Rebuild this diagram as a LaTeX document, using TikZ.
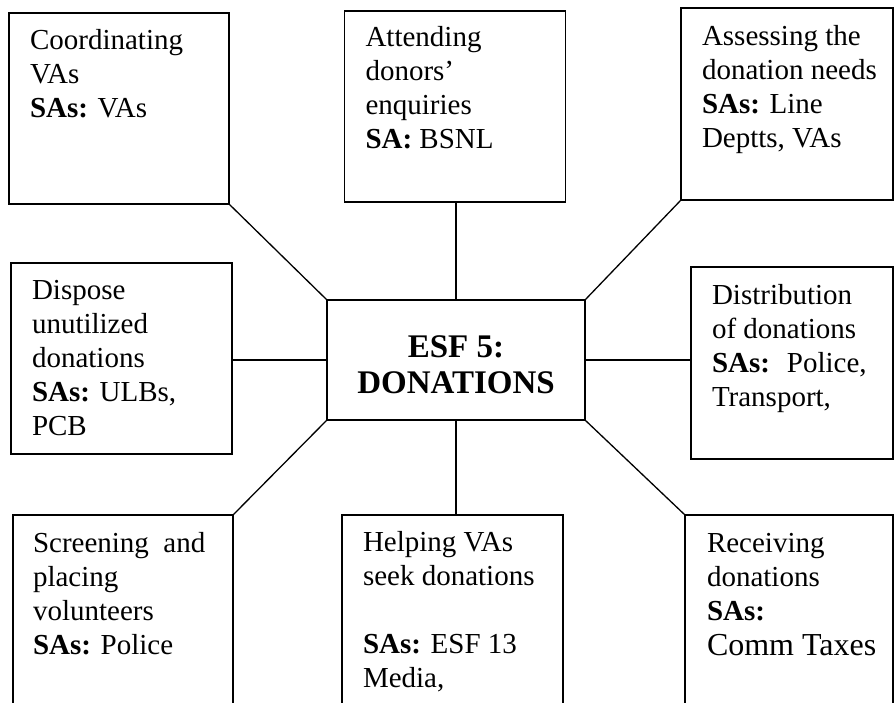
\documentclass[tikz,border=0pt]{standalone}
\usepackage{fontspec}
\setmainfont{Liberation Serif}
\usetikzlibrary{calc}
\tikzset{
  esfbox/.style={draw, line width=1.8pt, inner sep=0pt, outer sep=0pt, anchor=north west},
  esftext/.style={anchor=base west, inner sep=0pt, outer sep=0pt},
  esfline/.style={line width=1.3pt},
}
\newcommand{\esflines}[1]{\parbox[t]{200pt}{\raggedright\fontsize{29}{34}\selectfont #1}}

\begin{document}
\begin{tikzpicture}[x=1pt, y=-1pt]
	\useasboundingbox (0,0) rectangle (894,703);
	\clip (0,0) rectangle (894,703);
	
	% centre
	\node[draw, line width=1.8pt, inner sep=0pt, outer sep=0pt, minimum width=258pt, minimum height=120pt] (esf) at (456,360) {};
	\node[align=center, inner sep=0pt, font=\bfseries\fontsize{33}{36}\selectfont] (esftxt) at ($(esf.center)+(0,5)$) {ESF 5:\\DONATIONS};
	
	% boxes round it
	\node[esfbox, minimum width=220pt, minimum height=191pt] (coord) at (9,13) {};
	\node[esfbox, minimum width=221pt, minimum height=191pt] (enquiry) at (344.5,11) {};
	\node[esfbox, minimum width=212pt, minimum height=192pt] (assess) at (681,8) {};
	\node[esfbox, minimum width=221pt, minimum height=191pt] (dispose) at (11,263) {};
	\node[esfbox, minimum width=202pt, minimum height=192pt] (distrib) at (691,267) {};
	\node[esfbox, minimum width=220pt, minimum height=230pt] (screen) at (13,515) {};
	\node[esfbox, minimum width=221pt, minimum height=230pt] (helping) at (342,515) {};
	\node[esfbox, minimum width=208pt, minimum height=230pt] (receive) at (685,515) {};
	
	\node[esftext] (coordtxt) at ($(coord.north west)+(21,37)$)
		{\esflines{Coordinating\\ VAs\\ \textbf{SAs:} VAs}};
	\node[esftext] (enquirytxt) at ($(enquiry.north west)+(21,36)$)
		{\esflines{Attending\\ donors’\\ enquiries\\ \textbf{SA:} BSNL}};
	\node[esftext] (assesstxt) at ($(assess.north west)+(21,38)$)
		{\esflines{Assessing the\\ donation needs\\ \textbf{SAs:} Line\\ Deptts, VAs}};
	\node[esftext] (disposetxt) at ($(dispose.north west)+(21,37)$)
		{\esflines{Dispose\\ unutilized\\ donations\\ \textbf{SAs:} ULBs,\\ PCB}};
	\node[esftext] (distribtxt) at ($(distrib.north west)+(21,38)$)
		{\esflines{Distribution\\ of donations\\ \textbf{SAs:}~ Police,\\ Transport,}};
	\node[esftext] (screentxt) at ($(screen.north west)+(20,37)$)
		{\esflines{Screening~ and\\ placing\\ volunteers\\ \textbf{SAs:} Police}};
	\node[esftext] (helpingtxt) at ($(helping.north west)+(21,36)$)
		{\esflines{Helping VAs\\ seek donations\\[34pt] \textbf{SAs:} ESF 13\\ Media,}};
	\node[esftext] (receivetxt) at ($(receive.north west)+(22,37)$)
		{\esflines{Receiving\\ donations\\ \textbf{SAs:}\\[1pt] {\fontsize{32}{35}\selectfont Comm Taxes}}};
	
	% connectors
	\draw[esfline] (esf.north west) -- (coord.south east);
	\draw[esfline] (esf.north) -- (esf.north |- enquiry.south);
	\draw[esfline] (esf.north east) -- (assess.south west);
	\draw[esfline] (esf.west) -- (esf.west -| dispose.east);
	\draw[esfline] (esf.east) -- (esf.east -| distrib.west);
	\draw[esfline] (esf.south west) -- (screen.north east);
	\draw[esfline] (esf.south) -- (esf.south |- helping.north);
	\draw[esfline] (esf.south east) -- (receive.north west);
\end{tikzpicture}
\end{document}
